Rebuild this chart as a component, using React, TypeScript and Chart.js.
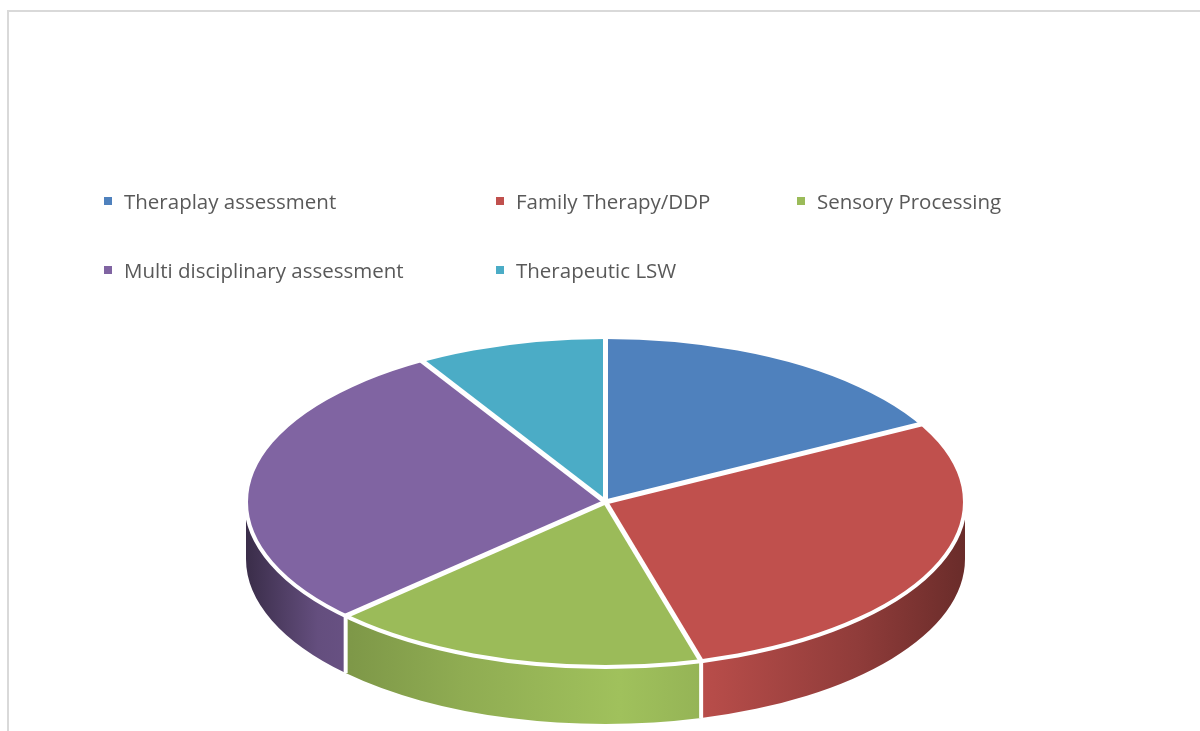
import React, { useEffect, useRef } from 'react';
import { Chart, registerables } from 'chart.js';

Chart.register(...registerables);

const labels = [
  'Theraplay assessment',
  'Family Therapy/DDP',
  'Sensory Processing',
  'Multi disciplinary assessment',
  'Therapeutic LSW',
];
const values = [6, 10, 6, 10, 3];
const colors = ['#4F81BD', '#C0504D', '#9BBB59', '#8064A2', '#4BACC6'];

// 3D look: ellipse centre on screen, vertical radius and wall depth
const PIE = { cy: 502, ry: 165, depth: 57 };
const SIDE_STOPS: [number, number][] = [
  [0, 0.45],
  [0.1, 0.78],
  [0.3, 0.92],
  [0.52, 1.03],
  [0.65, 0.95],
  [0.85, 0.75],
  [1, 0.55],
];

function shade(hex: string, f: number): string {
  const n = parseInt(hex.slice(1), 16);
  const r = Math.min(255, Math.round(((n >> 16) & 255) * f));
  const g = Math.min(255, Math.round(((n >> 8) & 255) * f));
  const b = Math.min(255, Math.round((n & 255) * f));
  return `rgb(${r},${g},${b})`;
}

const pie3d = {
  id: 'pie3d',
  beforeDatasetsDraw(chart: any) {
    const meta = chart.getDatasetMeta(0);
    const arcs = meta.data;
    if (!arcs.length) return;
    const ctx: CanvasRenderingContext2D = chart.ctx;
    const { x, y, outerRadius } = arcs[0].getProps(['x', 'y', 'outerRadius'], true);
    const R = outerRadius;
    const ry = PIE.ry;
    const cyT = PIE.cy;
    const k = ry / R;

    ctx.save();
    arcs.forEach((arc: any, i: number) => {
      const { startAngle, endAngle } = arc.getProps(['startAngle', 'endAngle'], true);
      const a = Math.max(startAngle, 0);
      const b = Math.min(endAngle, Math.PI);
      if (b <= a) return;
      const base = colors[i];
      const g = ctx.createLinearGradient(x - R, 0, x + R, 0);
      SIDE_STOPS.forEach(([p, f]) => g.addColorStop(p, shade(base, f)));
      ctx.beginPath();
      ctx.ellipse(x, cyT, R, ry, 0, a, b);
      ctx.ellipse(x, cyT + PIE.depth, R, ry, 0, b, a, true);
      ctx.closePath();
      ctx.fillStyle = g;
      ctx.fill();
    });
    // vertical white separators on the walls
    ctx.strokeStyle = '#ffffff';
    ctx.lineWidth = 4;
    arcs.forEach((arc: any) => {
      const { startAngle } = arc.getProps(['startAngle'], true);
      let t = startAngle;
      if (t > 0 && t < Math.PI) {
        const px = x + R * Math.cos(t);
        const py = cyT + ry * Math.sin(t);
        ctx.beginPath();
        ctx.moveTo(px, py);
        ctx.lineTo(px, py + PIE.depth);
        ctx.stroke();
      }
    });
    ctx.restore();

    // squash the top face
    ctx.save();
    ctx.translate(x, cyT);
    ctx.scale(1, k);
    ctx.translate(-x, -y);
  },
  afterDatasetsDraw(chart: any) {
    const meta = chart.getDatasetMeta(0);
    const arcs = meta.data;
    if (!arcs.length) return;
    const ctx: CanvasRenderingContext2D = chart.ctx;
    ctx.restore();
    const { x, outerRadius } = arcs[0].getProps(['x', 'outerRadius'], true);
    const R = outerRadius;
    const ry = PIE.ry;
    const cyT = PIE.cy;
    ctx.save();
    ctx.strokeStyle = '#ffffff';
    ctx.lineWidth = 5;
    ctx.lineCap = 'butt';
    arcs.forEach((arc: any) => {
      const { startAngle } = arc.getProps(['startAngle'], true);
      ctx.beginPath();
      ctx.moveTo(x, cyT);
      ctx.lineTo(x + R * Math.cos(startAngle), cyT + ry * Math.sin(startAngle));
      ctx.stroke();
    });
    ctx.lineWidth = 4;
    ctx.beginPath();
    ctx.ellipse(x, cyT, R, ry, 0, 0, Math.PI * 2);
    ctx.stroke();
    ctx.restore();
  },
};

export default function App() {
  const ref = useRef<HTMLCanvasElement | null>(null);

  useEffect(() => {
    if (!ref.current) return;
    const chart = new Chart(ref.current, {
      type: 'pie',
      data: {
        labels,
        datasets: [
          {
            data: values,
            backgroundColor: colors,
            borderWidth: 0,
            clip: false as any,
          },
        ],
      },
      options: {
        responsive: false,
        animation: false,
        devicePixelRatio: 1,
        layout: { padding: { left: 246, right: 235, top: 0, bottom: 0 } },
        plugins: {
          legend: { display: false },
          tooltip: { enabled: false },
        },
        events: [],
      },
      plugins: [pie3d],
    });
    return () => chart.destroy();
  }, []);

  return (
    <div>
      <div
        style={{
          position: 'absolute',
          left: 7,
          top: 10,
          width: 1193,
          height: 721,
          boxSizing: 'border-box',
          borderTop: '2px solid #d9d9d9',
          borderLeft: '2px solid #d9d9d9',
        }}
      />
      <canvas
        ref={ref}
        width={1200}
        height={731}
        style={{ position: 'absolute', left: 0, top: 0, width: 1200, height: 731 }}
      />
      <div
        style={{
          position: 'absolute',
          left: 104,
          top: 189,
          display: 'grid',
          gridTemplateColumns: '392px 301px auto',
          rowGap: 45,
          fontFamily: '"Open Sans", sans-serif',
          fontSize: 20.5,
          lineHeight: '24px',
          color: '#595959',
          whiteSpace: 'nowrap',
        }}
      >
        {labels.map((l, i) => (
          <div key={l} style={{ display: 'flex', alignItems: 'center' }}>
            <span
              style={{
                display: 'inline-block',
                width: 8,
                height: 8,
                background: colors[i],
                marginRight: 12,
              }}
            />
            <span>{l}</span>
          </div>
        ))}
      </div>
    </div>
  );
}
